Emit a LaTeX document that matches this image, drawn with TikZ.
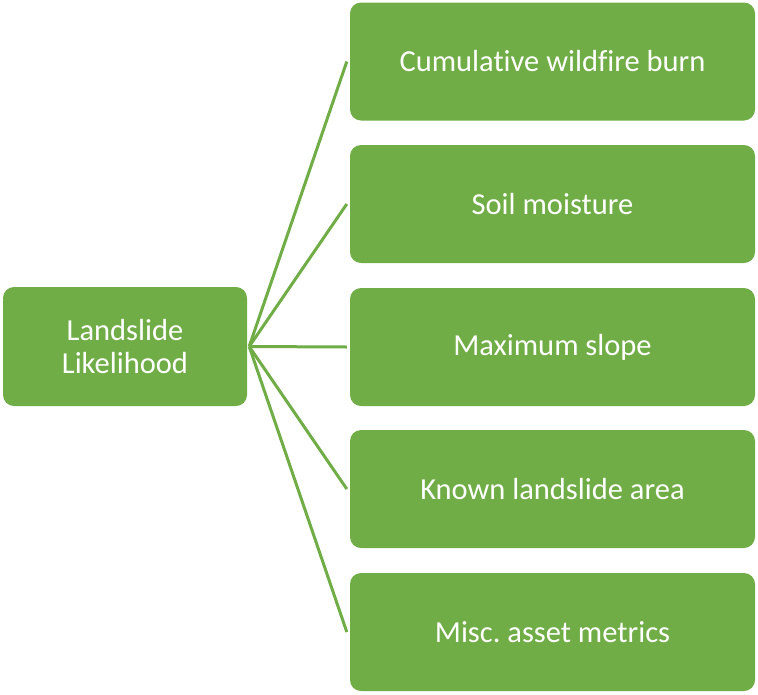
\documentclass[tikz,border=0pt]{standalone}
\usepackage{fontspec}
\setmainfont{Carlito}[Ligatures={NoCommon}]
\frenchspacing
\definecolor{leafgreen}{HTML}{70AD47}
\begin{document}
\begin{tikzpicture}[x=1pt,y=-1pt,
  box/.style={fill=leafgreen, draw=none, rounded corners=11pt, text=white,
    font=\fontsize{30.5}{33}\selectfont, align=center, inner sep=0pt},
  root/.style={box, minimum width=244pt, minimum height=119pt},
  leaf/.style={box, minimum width=405pt, minimum height=118pt},
  link/.style={draw=leafgreen, line width=3pt}]
\useasboundingbox (0,0) rectangle (758,694);
\node[root] (L) at (125,346.5) {Landslide\\Likelihood};
\node[leaf] (R1) at (552.5,61.5) {Cumulative wildfire burn};
\node[leaf] (R2) at (552.5,204) {Soil moisture};
\node[leaf] (R3) at (552.5,347) {Maximum slope};
\node[leaf] (R4) at (552.5,489) {Known landslide area};
\node[leaf] (R5) at (552.5,632) {Misc.\ asset metrics};
\coordinate (hub) at ([xshift=2pt]L.east);
\foreach \r in {R1,R2,R3,R4,R5}
  \draw[link] (hub) -- ([xshift=-3pt]\r.west);
\end{tikzpicture}
\end{document}
